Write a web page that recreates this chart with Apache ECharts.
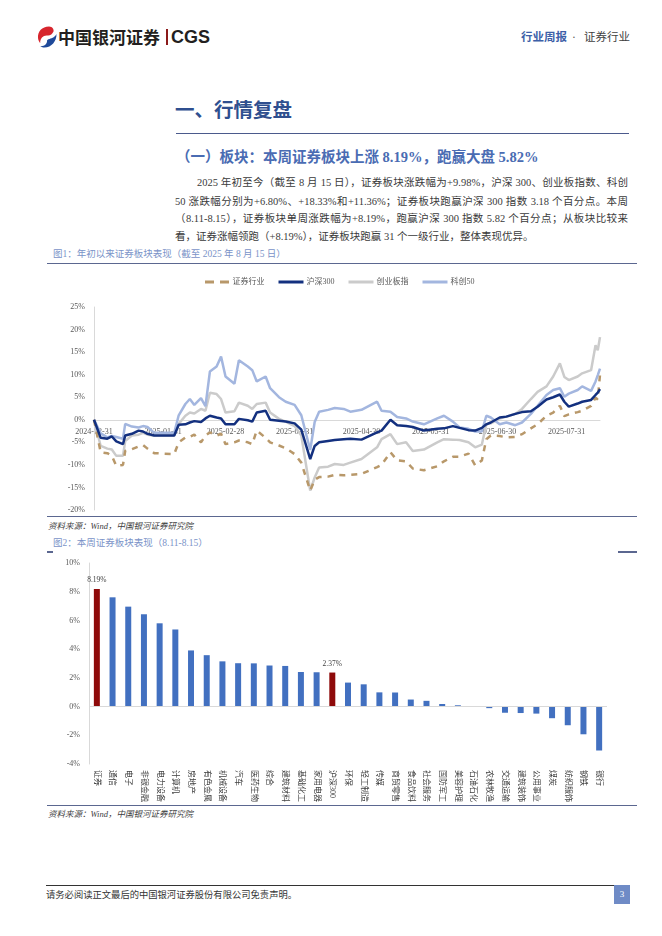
<!DOCTYPE html>
<html><head><meta charset="utf-8">
<script src="https://cdn.jsdelivr.net/npm/echarts@6/dist/echarts.min.js"></script>
<style>
html,body{margin:0;padding:0;background:#fff;}
#page{position:relative;width:662px;height:936px;overflow:hidden;background:#fff;font-family:"Liberation Serif","Noto Sans CJK SC",serif;}
.a{position:absolute;white-space:nowrap;}
.rule{position:absolute;}
.pl{position:absolute;font-size:10.5px;line-height:14px;color:#3a3a3a;text-align:justify;text-align-last:justify;white-space:nowrap;}
.cap{position:absolute;font-size:9.5px;line-height:14px;color:#7a93c8;white-space:nowrap;}
.src{position:absolute;font-size:8.5px;line-height:12px;color:#404040;font-style:italic;white-space:nowrap;}
</style></head>
<body>
<div id="page">
  <svg class="a" style="left:37px;top:26px" width="20" height="22" viewBox="0 0 20 22">
    <path d="M12 0.5 C5 0.5 0.5 5.5 1 12 C1.3 14.5 2.3 16 3.2 17 C3 12 6.5 9 10.5 9.5 C13 9.8 15.5 8 16.5 5.5 C17 3.5 15.5 0.6 12 0.5Z" fill="#d7262e"/>
    <path d="M19.5 8 C19.8 15 14.5 21.5 7.5 21.5 C5.5 21.5 4 20.8 3.3 20.2 C7.5 20.5 10.5 17.5 10 14.5 C11.5 12.5 15.5 12.8 17.5 10.5 C18.5 9.8 19.2 8.8 19.5 8Z" fill="#1f4a9a"/>
  </svg>
  <div class="a" style="left:58px;top:26.5px;font-size:17px;line-height:20px;font-weight:bold;font-family:'Noto Sans CJK SC',sans-serif;color:#231f20;">中国银河证券</div>
  <div class="rule" style="left:166px;top:29px;width:1.5px;height:16px;background:#8b1a1a;"></div>
  <div class="a" style="left:171px;top:26.5px;font-size:18px;line-height:20px;font-weight:bold;font-family:'Liberation Sans',sans-serif;color:#231f20;">CGS</div>
  <div class="a" style="left:521px;top:28.5px;font-size:11.5px;line-height:16px;color:#3d5fa8;font-weight:bold;">行业周报</div>
  <div class="a" style="left:572px;top:28.5px;font-size:11.5px;line-height:16px;color:#555;">·</div>
  <div class="a" style="left:584px;top:28.5px;font-size:11.5px;line-height:16px;color:#404040;">证券行业</div>

  <div class="a" style="left:175px;top:98.5px;font-size:19.5px;line-height:24px;font-weight:bold;color:#2f4f8f;">一、行情复盘</div>
  <div class="rule" style="left:176px;top:133px;width:453px;height:1px;background:#4b5a8c;"></div>
  <div class="a" style="left:176px;top:146.5px;font-size:14.5px;line-height:20px;font-weight:bold;color:#4a6cb3;">（一）板块：本周证券板块上涨 8.19%，跑赢大盘 5.82%</div>

  <div class="pl" style="left:197px;top:176.3px;width:431px;">2025 年初至今（截至 8 月 15 日），证券板块涨跌幅为+9.98%，沪深 300、创业板指数、科创</div>
  <div class="pl" style="left:175px;top:194.7px;width:453px;">50 涨跌幅分别为+6.80%、+18.33%和+11.36%；证券板块跑赢沪深 300 指数 3.18 个百分点。本周</div>
  <div class="pl" style="left:175px;top:212.3px;width:453px;">（8.11-8.15），证券板块单周涨跌幅为+8.19%，跑赢沪深 300 指数 5.82 个百分点；从板块比较来</div>
  <div class="pl" style="left:175px;top:229.7px;text-align:left;text-align-last:left;">看，证券涨幅领跑（+8.19%），证券板块跑赢 31 个一级行业，整体表现优异。</div>

  <div class="cap" style="left:53px;top:247.3px;">图1：年初以来证券板块表现（截至 2025 年 8 月 15 日）</div>
  <div class="rule" style="left:47px;top:262.5px;width:590px;height:1.5px;background:#5b6790;"></div>
  <div id="c1" style="position:absolute;left:0;top:265px;width:662px;height:250px;"></div>
  <div class="rule" style="left:47px;top:516px;width:590px;height:1px;background:#5b6790;"></div>
  <div class="src" style="left:48px;top:519.5px;">资料来源：Wind，中国银河证券研究院</div>

  <div class="cap" style="left:53px;top:536.3px;">图2：本周证券板块表现（8.11-8.15）</div>
  <div class="rule" style="left:47px;top:551px;width:6px;height:1.5px;background:#5b6790;"></div>
  <div class="rule" style="left:618px;top:551px;width:19px;height:1.5px;background:#5b6790;"></div>
  <div id="c2" style="position:absolute;left:0;top:553px;width:662px;height:252px;"></div>
  <div class="rule" style="left:47px;top:805px;width:590px;height:1px;background:#5b6790;"></div>
  <div class="src" style="left:48px;top:808px;">资料来源：Wind，中国银河证券研究院</div>

  <div class="rule" style="left:46px;top:884.5px;width:584px;height:1px;background:#333;"></div>
  <div class="a" style="left:46px;top:888.5px;font-size:9.3px;line-height:12px;color:#333;">请务必阅读正文最后的中国银河证券股份有限公司免责声明。</div>
  <div class="a" style="left:614px;top:885px;width:16px;height:19px;background:#6f8bc6;color:#fff;font-size:9px;line-height:19px;text-align:center;">3</div>
</div>
<script>
// ---------- Chart 1 data ----------
const dates = [
 '2024-12-31','2025-01-03','2025-01-06','2025-01-08','2025-01-10','2025-01-13','2025-01-14','2025-01-17','2025-01-20','2025-01-22','2025-01-24','2025-01-27',
 '2025-02-05','2025-02-07','2025-02-10','2025-02-12','2025-02-14','2025-02-17','2025-02-19','2025-02-21','2025-02-24','2025-02-26','2025-02-28',
 '2025-03-04','2025-03-06','2025-03-10','2025-03-12','2025-03-14','2025-03-18','2025-03-20','2025-03-24','2025-03-27','2025-03-31',
 '2025-04-03','2025-04-07','2025-04-09','2025-04-11','2025-04-15','2025-04-18','2025-04-22','2025-04-25','2025-04-30',
 '2025-05-07','2025-05-09','2025-05-13','2025-05-16','2025-05-20','2025-05-23','2025-05-28',
 '2025-06-03','2025-06-06','2025-06-10','2025-06-13','2025-06-17','2025-06-20','2025-06-23','2025-06-25','2025-06-27',
 '2025-07-01','2025-07-04','2025-07-08','2025-07-11','2025-07-15','2025-07-18','2025-07-22','2025-07-25','2025-07-28','2025-07-30',
 '2025-08-01','2025-08-05','2025-08-07','2025-08-11','2025-08-13','2025-08-14','2025-08-15'];
const zq = [
 0,-7.2,-7.4,-8.0,-10.2,-10.0,-6.9,-6.5,-5.9,-5.6,-6.4,-7.4,
 -7.6,-5.0,-3.9,-3.8,-3.3,-5.0,-3.5,-2.8,-3.5,-3.1,-5.4,
 -5.0,-4.6,-5.0,-5.4,-2.4,-4.0,-5.0,-5.7,-6.3,-7.6,
 -9.5,-15.7,-13.3,-12.7,-12.6,-12.2,-12.3,-12.2,-12.0,
 -10.5,-10.0,-7.2,-9.0,-9.2,-10.8,-11.2,
 -10.3,-9.2,-8.2,-8.2,-7.5,-10.1,-9.0,-4.3,-3.5,
 -3.6,-3.9,-3.8,-3.2,-1.9,-1.0,0.9,1.6,3.1,0.8,
 1.2,1.7,2.0,3.1,4.9,4.5,9.98];
const hs300 = [
 0,-4.0,-4.2,-3.7,-4.8,-5.4,-3.5,-3.1,-2.4,-2.6,-3.1,-3.5,
 -3.5,-1.1,-1.0,-0.6,-0.3,-0.5,0.3,0.9,0.5,0.3,-1.0,
 -1.0,0.2,-0.1,-0.4,1.6,2.0,0.0,-0.2,-0.4,-0.8,
 -2.2,-8.7,-5.8,-5.0,-4.7,-4.5,-4.3,-4.2,-4.4,
 -2.8,-2.4,0.0,-1.2,-1.4,-1.6,-2.4,
 -2.0,-1.9,-1.4,-1.8,-2.3,-2.4,-1.8,-1.0,-0.6,
 0.5,0.7,1.3,1.7,1.9,2.9,4.5,5.0,5.6,4.0,
 2.9,3.6,4.0,4.4,5.5,6.0,6.8];
const cyb = [
 0,-5.8,-6.4,-6.6,-8.0,-8.0,-4.7,-3.5,-3.3,-2.9,-3.3,-3.5,
 -3.5,-0.9,0.9,1.6,1.4,2.4,2.0,6.0,5.7,4.6,1.6,
 1.9,3.8,3.1,2.4,3.5,3.8,1.6,0.2,-0.4,-1.4,
 -3.5,-15.7,-12.8,-10.6,-10.4,-9.8,-10.0,-9.5,-8.7,
 -6.1,-4.3,-3.2,-5.4,-5.0,-6.9,-6.6,
 -5.0,-4.3,-4.4,-4.5,-5.0,-6.1,-5.5,-1.0,-0.8,
 0.3,0.7,1.3,2.4,4.6,6.2,7.4,9.6,12.5,9.5,
 8.8,9.6,10.3,11.0,16.5,15.4,18.33];
const kc50 = [
 0,-3.0,-3.9,-3.6,-3.8,-4.2,-0.9,-1.5,-1.7,-1.4,-1.6,-2.9,
 -2.9,1.0,3.5,4.6,3.3,4.8,3.0,10.7,11.8,14.0,9.6,
 8.0,13.2,11.8,11.0,8.5,9.6,7.0,5.0,4.0,3.3,
 1.0,-6.7,-0.5,1.8,2.2,2.6,2.4,1.8,2.2,
 4.0,2.0,1.8,0.6,0.3,-0.4,-1.0,
 0.3,0.9,-0.4,-1.7,-2.0,-2.6,-2.6,0.9,0.5,
 -1.0,-0.6,-1.2,-0.6,1.3,3.1,5.5,6.6,7.0,5.1,
 5.8,6.6,7.4,6.4,8.5,9.9,11.36];
const lineNames = ['证券行业','沪深300','创业板指','科创50'];
const tickDates = ['2024-12-31','2025-01-31','2025-02-28','2025-03-31','2025-04-30','2025-05-31','2025-06-30','2025-07-31'];

// ---------- Chart 2 data ----------
const industries = ['证券','通信','电子','非银金融','电力设备','计算机','房地产','有色金属','机械设备','汽车','医药生物','综合','建筑材料','基础化工','家用电器','沪深300','环保','轻工制造','传媒','商贸零售','食品饮料','社会服务','国防军工','美容护理','石油石化','农林牧渔','交通运输','建筑装饰','公用事业','煤炭','纺织服饰','钢铁','银行'];
const weekChange = [8.19,7.61,6.96,6.43,5.80,5.37,3.91,3.58,3.15,3.02,3.01,2.86,2.83,2.41,2.39,2.37,1.67,1.55,0.99,0.98,0.49,0.40,0.18,0.09,0.01,-0.11,-0.43,-0.45,-0.49,-0.81,-1.30,-1.93,-3.06];
const highlighted = ['证券','沪深300'];

const FONT = '"Liberation Serif","Noto Sans CJK SC",serif';
const base = Date.parse('2024-12-31');
const dayOf = d => Math.round((Date.parse(d) - base) / 86400000);
const pts = arr => arr.map((v, i) => [dayOf(dates[i]), v]);
const tickVals = tickDates.map(dayOf);
const lastDay = dayOf(dates[dates.length - 1]);

const Y1MIN = -20, Y1MAX = 25;
const G1 = {left: 94, right: 62, top: 42, bottom: 5};
const G1H = 250 - G1.top - G1.bottom;
const zeroOffset = -((0 - Y1MIN) / (Y1MAX - Y1MIN)) * G1H;

const c1 = echarts.init(document.getElementById('c1'), null, {renderer: 'canvas'});
const lineColors = ['#b8986a', '#13307f', '#cbcbcb', '#a3b6df'];
const lineData = [zq, hs300, cyb, kc50];
const zs = [4, 5, 2, 3];
const dashIcon = 'path://M0,0h9v3h-9zM15,0h9v3h-9z';
c1.setOption({
  animation: false,
  textStyle: {fontFamily: FONT},
  legend: {
    left: 200, top: 8, itemHeight: 3, itemGap: 14,
    textStyle: {fontSize: 8, color: '#595959', fontFamily: FONT, padding: [0, 0, 0, -2]},
    data: lineNames.map((n, i) => ({name: n, icon: i === 0 ? dashIcon : 'rect', itemWidth: i === 0 ? 24 : 28}))
  },
  grid: Object.assign({outerBoundsMode: 'none', containLabel: false}, G1),
  xAxis: {
    type: 'value', min: 0, max: lastDay, position: 'bottom', offset: zeroOffset,
    axisLine: {onZero: false, lineStyle: {color: '#d9d9d9', width: 1}},
    axisTick: {show: false}, splitLine: {show: false},
    axisLabel: {
      customValues: tickVals,
      formatter: v => { const k = tickVals.indexOf(v); return k >= 0 ? tickDates[k] : ''; },
      color: '#595959', fontSize: 8, margin: 8, fontFamily: FONT
    }
  },
  yAxis: {
    type: 'value', min: Y1MIN, max: Y1MAX, interval: 5,
    axisLine: {show: true, lineStyle: {color: '#d9d9d9'}},
    axisTick: {show: false}, splitLine: {show: false},
    axisLabel: {formatter: '{value}%', color: '#595959', fontSize: 8, margin: 9, fontFamily: FONT}
  },
  series: lineNames.map((n, i) => ({
    name: n, type: 'line', data: pts(lineData[i]), symbol: 'none', z: zs[i],
    lineStyle: {color: lineColors[i], width: 2.5, type: i === 0 ? [6, 6] : 'solid'},
    itemStyle: {color: lineColors[i]}
  }))
});

const c2 = echarts.init(document.getElementById('c2'), null, {renderer: 'canvas'});
c2.setOption({
  animation: false,
  textStyle: {fontFamily: FONT},
  grid: {left: 89, right: 55, top: 10, bottom: 41, containLabel: false, outerBoundsMode: 'none'},
  xAxis: {
    type: 'category', data: industries,
    axisLine: {show: false, onZero: false}, axisTick: {show: false},
    axisLabel: {interval: 0, rotate: -90, fontSize: 8, color: '#404040', margin: 6, fontFamily: FONT}
  },
  yAxis: {
    type: 'value', min: -4, max: 10, interval: 2,
    axisLine: {show: true, lineStyle: {color: '#d9d9d9'}},
    axisTick: {show: false}, splitLine: {show: false},
    axisLabel: {formatter: '{value}%', color: '#595959', fontSize: 8, margin: 9, fontFamily: FONT}
  },
  series: [{
    type: 'bar', barWidth: 6,
    itemStyle: {color: '#4270c0'},
    data: weekChange.map((v, i) => highlighted.includes(industries[i]) ? {
      value: v, itemStyle: {color: '#8e0a0a'},
      label: {show: true, position: 'top', distance: 5, formatter: v.toFixed(2) + '%', fontSize: 7.5, color: '#404040', fontFamily: FONT}
    } : v),
    markLine: {
      silent: true, symbol: 'none', label: {show: false},
      lineStyle: {color: '#d9d9d9', type: 'solid', width: 1},
      data: [{yAxis: 0}]
    }
  }]
});
</script>
</body></html>
